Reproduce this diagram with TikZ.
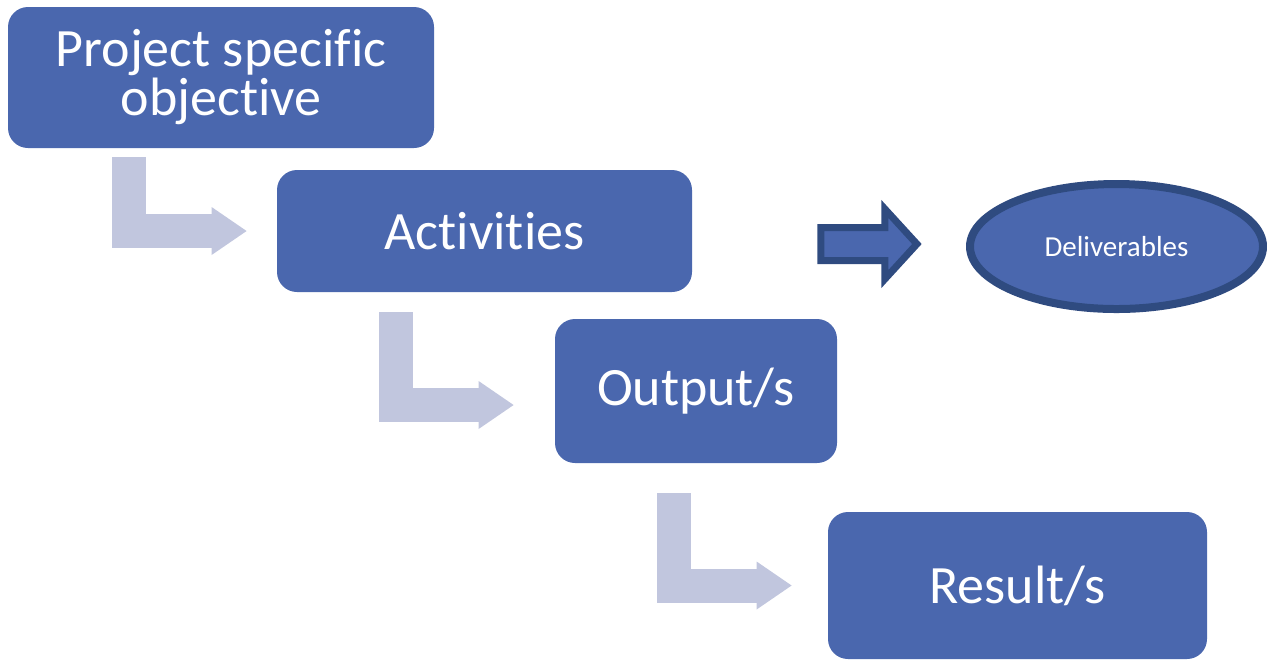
\documentclass[tikz,border=0pt]{standalone}
\usepackage{xcolor}
\usepackage{tikz}
\usepackage{fontspec}
\setmainfont{Carlito}[Ligatures={NoCommon,NoContextual}]
\usetikzlibrary{arrows.meta,shapes.geometric}
\definecolor{box}{RGB}{74,103,174}
\definecolor{rim}{RGB}{47,75,128}
\definecolor{pale}{RGB}{193,198,222}
\newcommand{\bentarrow}[2]{\draw[bent] #1 |- #2;}
\tikzset{
  stage/.style={rectangle, rounded corners=10pt, fill=box, text=white, inner sep=0pt,
    align=center, font=\fontsize{27}{24.5}\selectfont},
  bent/.style={pale, line width=17pt, -{Triangle[length=17.5pt,width=24pt,line width=0pt]}},
  outcome/.style={ellipse, draw=rim, fill=box, line width=4pt, inner sep=0pt, text=white,
    font=\fontsize{14.5}{17}\selectfont}
}

\begin{document}
\begin{tikzpicture}[x=0.5pt,y=-0.5pt]
\useasboundingbox (0,0) rectangle (1267,661);
\node[stage, minimum width=213pt, minimum height=70.5pt] (obj) at (221,77.5) {Project specific\\objective};
    \node[stage, minimum width=207.5pt, minimum height=61pt] (act) at (484.5,231) {Activities};
    \node[stage, minimum width=141pt, minimum height=72pt] (out) at (696,391) {Output/s};
    \node[stage, minimum width=189.5pt, minimum height=73.5pt] (res) at (1017.5,585.5) {Result/s};
    \node[outcome, minimum width=146.5pt, minimum height=62.5pt] (del) at (1116.5,246.5) {Deliverables};
\bentarrow{([xshift=60.5pt,yshift=-4.5pt]obj.south west)}{([xshift=-15pt]act.west)}
    \bentarrow{([xshift=59.5pt,yshift=-10pt]act.south west)}{([xshift=-20.5pt,yshift=-7pt]out.west)}
    \bentarrow{([xshift=59.5pt,yshift=-15pt]out.south west)}{([xshift=-18pt]res.west)}
\draw[rim, fill=box, line width=3.5pt] ([xshift=64.25pt,yshift=1.75pt]act.east)--++(64,0)--++(0,-18.5)--++(32,35)--++(-32,35)--++(0,-18.5)--++(-64,0)--cycle;
\end{tikzpicture}
\end{document}
